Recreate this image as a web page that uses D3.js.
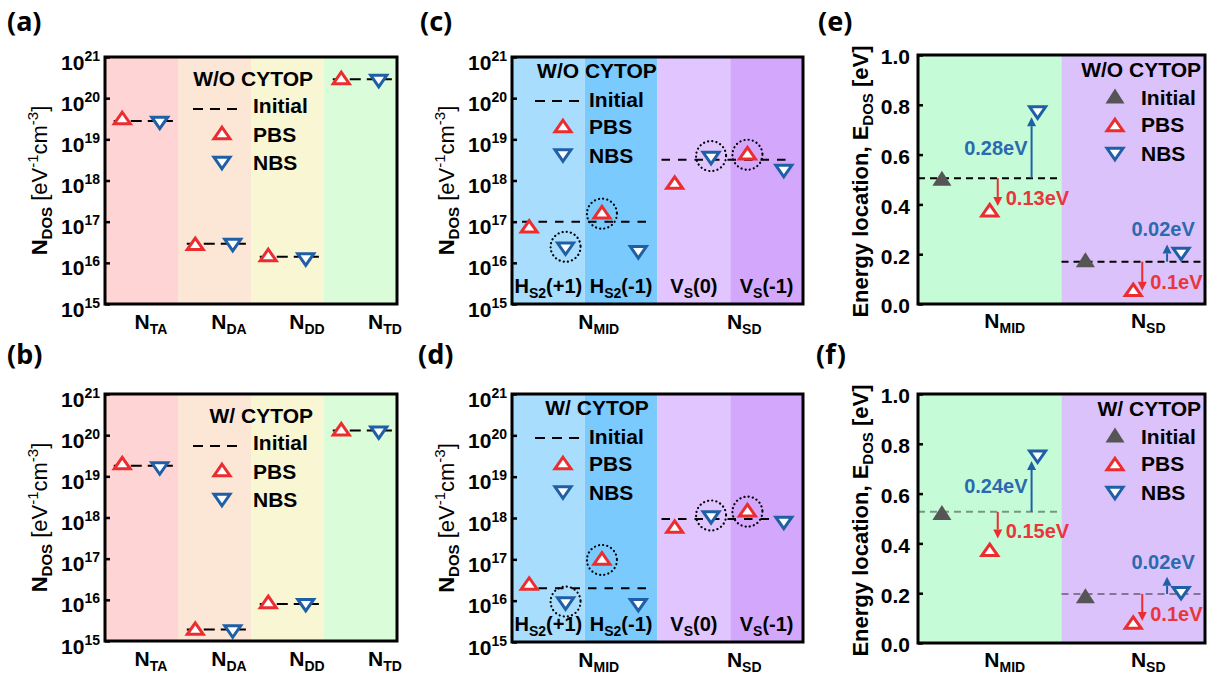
<!DOCTYPE html>
<html><head><meta charset="utf-8">
<script src="https://cdn.jsdelivr.net/npm/d3@7"></script>
<style>body{margin:0;background:#fff}</style>
</head><body>
<svg id="chart" width="1211" height="676"></svg>
<script>
// ---------------- DATA ----------------
const trapCats = ["TA", "DA", "DD", "TD"];
const aInitial = [2.8e19, 2.9e16, 1.4e16, 2.9e20];
const aPBS     = [3.3e19, 2.9e16, 1.55e16, 3.1e20];
const aNBS     = [2.5e19, 2.7e16, 1.2e16, 2.6e20];
const bInitial = [1.8e19, 1.9e15, 7.9e15, 1.3e20];
const bPBS     = [2.1e19, 2.0e15, 8.9e15, 1.4e20];
const bNBS     = [1.55e19, 1.7e15, 7.4e15, 1.15e20];

const defectGroups = ["MID", "SD"];
const defectCats = ["HS2(+1)", "HS2(-1)", "VS(0)", "VS(-1)"];
const defectLabelMain = ["H", "H", "V", "V"];
const defectLabelSub  = ["S2", "S2", "S", "S"];
const defectLabelTail = ["(+1)", "(-1)", "(0)", "(-1)"];
const cInitial = [1.0e17, 3.2e18];           // per group (MID, SD)
const cPBS     = [7.7e16, 1.7e17, 8.9e17, 4.6e18];
const cNBS     = [2.2e16, 1.8e16, 3.5e18, 1.7e18];
const dInitial = [2.0e16, 9.5e17];
const dPBS     = [2.6e16, 1.05e17, 6.2e17, 1.55e18];
const dNBS     = [8.5e15, 7.8e15, 1.03e18, 7.6e17];
const circledPBS = [false, true, false, true];
const circledNBS = [true, false, true, false];

const energyCats = ["MID", "SD"];
const eInitial     = [0.505, 0.178];
const eInitialLine = [0.505, 0.170];
const ePBS         = [0.377, 0.057];
const eNBS         = [0.769, 0.201];
const eArrowPBSEnd = [0.394, 0.053];
const eArrowNBSEnd = [0.750, 0.239];
const eShiftPBS    = ["0.13eV", "0.1eV"];
const eShiftNBS    = ["0.28eV", "0.02eV"];
const fInitial     = [0.524, 0.190];
const fInitialLine = [0.527, 0.197];
const fPBS         = [0.374, 0.082];
const fNBS         = [0.748, 0.200];
const fArrowPBSEnd = [0.420, 0.088];
const fArrowNBSEnd = [0.731, 0.266];
const fShiftPBS    = ["0.15eV", "0.1eV"];
const fShiftNBS    = ["0.24eV", "0.02eV"];

const logTickExps = [15, 16, 17, 18, 19, 20, 21];
const energyTicks = [0.0, 0.2, 0.4, 0.6, 0.8, 1.0];

// ---------------- STYLE ----------------
const FONT = '"Liberation Sans", Arial, Helvetica, sans-serif';
const RED = "#EC2D30", BLUE = "#1F5FA6", GRAY = "#555555";
const ARROW_BLUE = "#1F5FA6", TEXT_BLUE = "#2B6AAE", TEXT_RED = "#E8363B";
const trapColors = ["#FFD4D4", "#FCE6D6", "#F9F6D4", "#DBFCD9"];
const defectColors = ["#A9DDFD", "#7BCAFE", "#E1C5FE", "#D3A8FC"];
const energyColors = ["#C6FBD8", "#DCC2FB"];

const svg = d3.select("#chart");
svg.append("rect").attr("width", 1211).attr("height", 676).attr("fill", "#fff");

function rich(g, x, y, parts, o = {}) {
  const t = g.append("text").attr("x", x).attr("y", y)
    .attr("text-anchor", o.anchor || "start")
    .attr("font-family", o.family || FONT)
    .attr("font-size", o.size || 20)
    .attr("font-weight", o.weight || "bold")
    .attr("fill", o.fill || "#000");
  if (o.transform) t.attr("transform", o.transform);
  let cur = 0;
  parts.forEach(p => {
    const sh = p.shift || 0;
    const ts = t.append("tspan").text(p.t).attr("dy", sh - cur);
    cur = sh;
    if (p.size) ts.attr("font-size", p.size);
    if (p.weight) ts.attr("font-weight", p.weight);
  });
  return t;
}

function triPath(dir, w = 16, h = 11.5) {
  return dir > 0 ? `M0,${-h/2}L${w/2},${h/2}L${-w/2},${h/2}Z`
                 : `M0,${h/2}L${w/2},${-h/2}L${-w/2},${-h/2}Z`;
}
function marker(g, kind, x, y) {
  const p = g.append("path").attr("transform", `translate(${x},${y})`);
  if (kind === "PBS") p.attr("d", triPath(1)).attr("fill", "#fff").attr("stroke", RED).attr("stroke-width", 3);
  else if (kind === "NBS") p.attr("d", triPath(-1)).attr("fill", "#fff").attr("stroke", BLUE).attr("stroke-width", 3);
  else p.attr("d", triPath(1, 19, 15)).attr("fill", GRAY);
}
function frame(g, p) {
  g.append("rect").attr("x", p.x0).attr("y", p.y0).attr("width", p.x1 - p.x0).attr("height", p.y1 - p.y0)
    .attr("fill", "none").attr("stroke", "#000").attr("stroke-width", 3);
}
function panelLabel(x, y, s) {
  svg.append("text").attr("x", x).attr("y", y).attr("font-family", '"Noto Sans", "Open Sans", sans-serif')
    .attr("font-weight", "bold").attr("font-size", 27).text(s);
}
function logAxis(g, p, y) {
  const ax = g.append("g").attr("transform", `translate(${p.x0},0)`)
    .call(d3.axisLeft(y).tickValues(logTickExps.map(e => Math.pow(10, e))).tickSizeInner(-5).tickSizeOuter(0).tickFormat(""));
  ax.select(".domain").remove();
  ax.selectAll(".tick line").attr("stroke", "#000").attr("stroke-width", 2.5);
  ax.selectAll(".tick text").remove();
  ax.selectAll(".tick").each(function (d, i) {
    rich(d3.select(this), -5, 12, [{ t: "10" }, { t: String(logTickExps[i]), size: 14, shift: -9 }], { anchor: "end", size: 21 });
  });
  rich(g, 0, 0, [
    { t: "N" }, { t: "DOS", size: 15, shift: 5 },
    { t: " [eV", weight: "normal", shift: 0 }, { t: "-1", size: 15, weight: "normal", shift: -9 },
    { t: "cm", weight: "normal", shift: 0 }, { t: "-3", size: 15, weight: "normal", shift: -9 },
    { t: "]", weight: "normal", shift: 0 }
  ], { anchor: "middle", size: 22, transform: `translate(${p.x0 - 58},${(p.y0 + p.y1) / 2}) rotate(-90)` });
}
function legendRows(g, items) {
  items.forEach(it => {
    if (it.kind === "dash") {
      g.append("line").attr("x1", it.x).attr("x2", it.x + 47).attr("y1", it.my).attr("y2", it.my)
        .attr("stroke", "#000").attr("stroke-width", 2).attr("stroke-dasharray", "10,7");
    } else if (it.kind) marker(g, it.kind, it.x, it.my);
    rich(g, it.tx, it.ty, [{ t: it.label }], { size: 21, anchor: it.anchor || "start" });
  });
}

// ---------------- PANELS (a),(b) ----------------
function trapPanel(p, initial, pbs, nbs, title) {
  const g = svg.append("g");
  const x = d3.scaleBand().domain(trapCats).range([p.x0, p.x1]);
  const bw = x.bandwidth();
  const sub = d3.scalePoint().domain(["PBS", "NBS"]).range([0, bw]).padding(0.5);
  const y = d3.scaleLog().domain([1e15, 1e21]).range([p.y1, p.y0]);
  g.selectAll(".band").data(trapCats).enter().append("rect")
    .attr("x", d => x(d)).attr("y", p.y0).attr("width", bw).attr("height", p.y1 - p.y0)
    .attr("fill", (d, i) => trapColors[i]);
  legendRows(g, [
    { label: title, tx: p.x0 + 208, ty: p.y0 + 29, anchor: "end" },
    { kind: "dash", x: p.x0 + 88, my: p.y0 + 52, label: "Initial", tx: p.x0 + 148, ty: p.y0 + 56 },
    { kind: "PBS", x: p.x0 + 117, my: p.y0 + 76, label: "PBS", tx: p.x0 + 148, ty: p.y0 + 84.5 },
    { kind: "NBS", x: p.x0 + 117, my: p.y0 + 106, label: "NBS", tx: p.x0 + 148, ty: p.y0 + 113 }
  ]);
  trapCats.forEach((c, i) => {
    g.append("line").attr("x1", x(c) + bw * 0.12).attr("x2", x(c) + bw * 0.93)
      .attr("y1", y(initial[i])).attr("y2", y(initial[i]))
      .attr("stroke", "#000").attr("stroke-width", 2).attr("stroke-dasharray", "11,6");
    marker(g, "PBS", x(c) + sub("PBS") - 1, y(pbs[i]));
    marker(g, "NBS", x(c) + sub("NBS"), y(nbs[i]));
  });
  frame(g, p);
  logAxis(g, p, y);
  const xl = d3.scalePoint().domain(trapCats).range([p.x0 + 46, p.x1 - 12]);
  trapCats.forEach(c => rich(g, xl(c), p.y1 + 25, [{ t: "N" }, { t: c, size: 14, shift: 5 }], { anchor: "middle", size: 21 }));
}

// ---------------- PANELS (c),(d) ----------------
function defectPanel(p, initial, pbs, nbs, title) {
  const g = svg.append("g");
  const x = d3.scaleBand().domain(defectCats).range([p.x0, p.x1]);
  const bw = x.bandwidth();
  const sub = d3.scalePoint().domain(["PBS", "NBS"]).range([0, bw]).padding(0.5);
  const y = d3.scaleLog().domain([1e15, 1e21]).range([p.y1, p.y0]);
  g.selectAll(".band").data(defectCats).enter().append("rect")
    .attr("x", d => x(d)).attr("y", p.y0).attr("width", bw).attr("height", p.y1 - p.y0)
    .attr("fill", (d, i) => defectColors[i]);
  legendRows(g, [
    { label: title, tx: p.x0 + 85, ty: p.y0 + 21, anchor: "middle" },
    { kind: "dash", x: p.x0 + 23, my: p.y0 + 44, label: "Initial", tx: p.x0 + 77, ty: p.y0 + 49.5 },
    { kind: "PBS", x: p.x0 + 51, my: p.y0 + 69, label: "PBS", tx: p.x0 + 77, ty: p.y0 + 77 },
    { kind: "NBS", x: p.x0 + 51, my: p.y0 + 98.5, label: "NBS", tx: p.x0 + 77, ty: p.y0 + 106 }
  ]);
  defectCats.forEach((c, i) => {
    rich(g, x(c) + bw / 2, p.y1 - 11, [{ t: defectLabelMain[i] }, { t: defectLabelSub[i], size: 14, shift: 5 }, { t: defectLabelTail[i], shift: 0 }],
      { anchor: "middle", size: 20 });
  });
  defectGroups.forEach((gr, k) => {
    const xs = x(defectCats[2 * k]), xe = x(defectCats[2 * k + 1]) + bw;
    g.append("line").attr("x1", xs + (k ? 4 : 10)).attr("x2", xe - (k ? 13 : 8))
      .attr("y1", y(initial[k])).attr("y2", y(initial[k]))
      .attr("stroke", "#000").attr("stroke-width", 2).attr("stroke-dasharray", "8.5,8");
  });
  defectCats.forEach((c, i) => {
    const xp = x(c) + sub("PBS") - 1, xn = x(c) + sub("NBS") - 1;
    marker(g, "PBS", xp, y(pbs[i]));
    marker(g, "NBS", xn, y(nbs[i]));
    [[circledPBS[i], xp, pbs[i], 1.5], [circledNBS[i], xn, nbs[i], -2]].forEach(([on, cx, v, dy]) => {
      if (on) g.append("circle").attr("cx", cx).attr("cy", y(v) + dy).attr("r", 15)
        .attr("fill", "none").attr("stroke", "#000").attr("stroke-width", 2.2)
        .attr("stroke-dasharray", "0.1,4.1").attr("stroke-linecap", "round");
    });
  });
  frame(g, p);
  logAxis(g, p, y);
  defectGroups.forEach((gr, k) => {
    const cx = x(defectCats[2 * k]) + bw + 14;
    rich(g, cx, p.y1 + 25, [{ t: "N" }, { t: gr, size: 14, shift: 5 }], { anchor: "middle", size: 21 });
  });
}

// ---------------- PANELS (e),(f) ----------------
function arrow(g, x, y0, y1, color) {
  const dir = y1 < y0 ? -1 : 1, hl = 9, hw = 4.5;
  g.append("line").attr("x1", x).attr("x2", x).attr("y1", y0).attr("y2", y1 - dir * hl)
    .attr("stroke", color).attr("stroke-width", 2);
  g.append("path").attr("d", `M${x},${y1}L${x - hw},${y1 - dir * hl}L${x + hw},${y1 - dir * hl}Z`).attr("fill", color);
}
function energyPanel(p, initial, initialLine, pbs, nbs, pEnd, nEnd, pTxt, nTxt, title, lineColor, lineOpacity) {
  const g = svg.append("g");
  const x = d3.scaleBand().domain(energyCats).range([p.x0, p.x1]);
  const bw = x.bandwidth();
  const sub = d3.scalePoint().domain(["Initial", "PBS", "NBS"]).range([0, bw]).padding(0.5);
  const y = d3.scaleLinear().domain([0, 1]).range([p.y1, p.y0]);
  g.selectAll(".band").data(energyCats).enter().append("rect")
    .attr("x", d => x(d)).attr("y", p.y0).attr("width", bw).attr("height", p.y1 - p.y0)
    .attr("fill", (d, i) => energyColors[i]);
  legendRows(g, [
    { label: title, tx: p.x1 - 4, ty: p.y0 + 21.5, anchor: "end" },
    { kind: "Initial", x: p.x1 - 90, my: p.y0 + 41, label: "Initial", tx: p.x1 - 64, ty: p.y0 + 49.5 },
    { kind: "PBS", x: p.x1 - 90, my: p.y0 + 70, label: "PBS", tx: p.x1 - 64, ty: p.y0 + 77 },
    { kind: "NBS", x: p.x1 - 90, my: p.y0 + 99, label: "NBS", tx: p.x1 - 64, ty: p.y0 + 106 }
  ]);
  const nbsDx = [-6, -14], pbsDx = [8, 9];
  energyCats.forEach((c, i) => {
    g.append("line").attr("x1", x(c)).attr("x2", x(c) + bw).attr("y1", y(initialLine[i])).attr("y2", y(initialLine[i]))
      .attr("stroke", lineColor).attr("stroke-opacity", lineOpacity).attr("stroke-width", 2).attr("stroke-dasharray", "7,5");
    const xn = x(c) + sub("NBS") + nbsDx[i], xp = x(c) + sub("PBS") + pbsDx[i];
    const y0 = y(initialLine[i]);
    arrow(g, xn, y0, y(nEnd[i]), ARROW_BLUE);
    arrow(g, xp, y0, y(pEnd[i]), RED);
    if (i === 0) rich(g, xn - 4, (y0 + y(nEnd[i])) / 2 + 7, [{ t: nTxt[i] }], { anchor: "end", size: 20, fill: TEXT_BLUE });
    else rich(g, xn - 4, y(nEnd[i]) - 8, [{ t: nTxt[i] }], { anchor: "middle", size: 20, fill: TEXT_BLUE });
    rich(g, xp + 8, (y0 + y(pEnd[i])) / 2 + 13, [{ t: pTxt[i] }], { anchor: "start", size: 20, fill: TEXT_RED });
    marker(g, "Initial", x(c) + sub("Initial"), y(initial[i]));
    marker(g, "PBS", x(c) + sub("PBS"), y(pbs[i]));
    marker(g, "NBS", x(c) + sub("NBS"), y(nbs[i]));
  });
  frame(g, p);
  const ax = g.append("g").attr("transform", `translate(${p.x0},0)`)
    .call(d3.axisLeft(y).tickValues(energyTicks).tickSizeInner(-5).tickSizeOuter(0).tickPadding(8).tickFormat(d3.format(".1f")));
  ax.select(".domain").remove();
  ax.selectAll(".tick line").attr("stroke", "#000").attr("stroke-width", 2.5);
  ax.selectAll(".tick text").attr("font-family", FONT).attr("font-size", 21).attr("font-weight", "bold")
    .attr("fill", "#000").attr("dy", "0.42em");
  rich(g, 0, 0, [{ t: "Energy location, E" }, { t: "DOS", size: 15, shift: 5 }, { t: " [eV]", shift: 0 }],
    { anchor: "middle", size: 22, transform: `translate(${p.x0 - 50},${(p.y0 + p.y1) / 2 + 2}) rotate(-90)` });
  energyCats.forEach(c => rich(g, x(c) + bw / 2 + 15, p.y1 + 24, [{ t: "N" }, { t: c, size: 14, shift: 5 }], { anchor: "middle", size: 21 }));
}

const PA = { x0: 105, x1: 397, y0: 57, y1: 304 };
const PB = { x0: 105, x1: 397, y0: 394, y1: 641 };
const PC = { x0: 512, x1: 803, y0: 57, y1: 304 };
const PD = { x0: 512, x1: 803, y0: 394, y1: 642 };
const PE = { x0: 918, x1: 1205, y0: 55, y1: 304 };
const PF = { x0: 918, x1: 1205, y0: 394, y1: 643 };

trapPanel(PA, aInitial, aPBS, aNBS, "W/O CYTOP");
trapPanel(PB, bInitial, bPBS, bNBS, "W/ CYTOP");
defectPanel(PC, cInitial, cPBS, cNBS, "W/O CYTOP");
defectPanel(PD, dInitial, dPBS, dNBS, "W/ CYTOP");
energyPanel(PE, eInitial, eInitialLine, ePBS, eNBS, eArrowPBSEnd, eArrowNBSEnd, eShiftPBS, eShiftNBS, "W/O CYTOP", "#000", 1);
energyPanel(PF, fInitial, fInitialLine, fPBS, fNBS, fArrowPBSEnd, fArrowNBSEnd, fShiftPBS, fShiftNBS, "W/ CYTOP", "#000", 0.4);

panelLabel(7, 31, "(a)");
panelLabel(7, 364, "(b)");
panelLabel(420, 31, "(c)");
panelLabel(418, 364, "(d)");
panelLabel(818, 31, "(e)");
panelLabel(816, 364, "(f)");
</script>
</body></html>
